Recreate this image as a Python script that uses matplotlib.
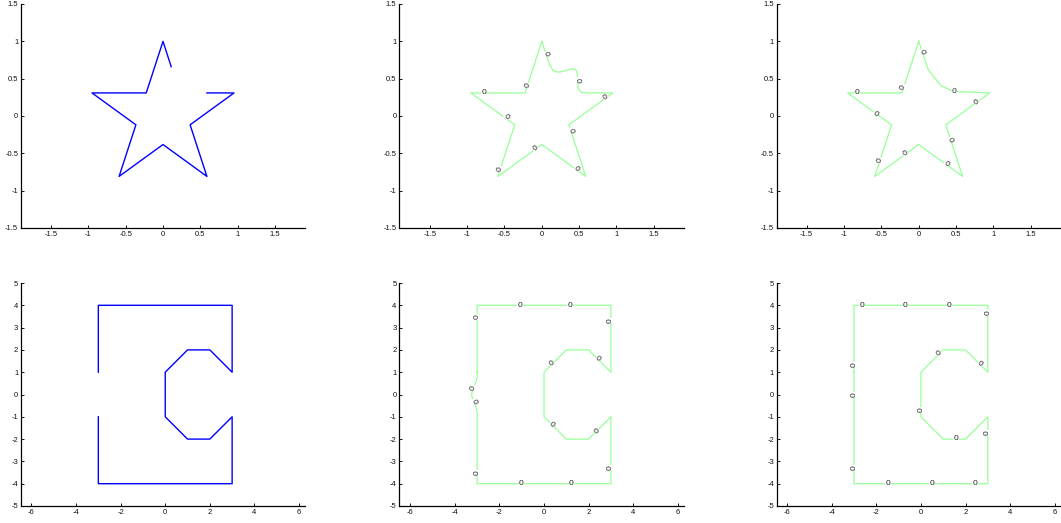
import numpy as np
import matplotlib
matplotlib.use("Agg")
import matplotlib.pyplot as plt

plt.rcParams["font.family"] = ["Liberation Sans", "DejaVu Sans"]
plt.rcParams["axes.unicode_minus"] = False

# ---------------- star: broken outline ----------------
star_broken_x = [0.588, 0.951, 0.363, 0.588, 0.0, -0.588, -0.363, -0.951, -0.2245, 0.0, 0.11]
star_broken_y = [0.309, 0.309, -0.118, -0.809, -0.382, -0.809, -0.118, 0.309, 0.309, 1.0, 0.66]

# ---------------- star: smooth completion ----------------
star_smooth_x = [0.0, 0.05, 0.10, 0.13, 0.16, 0.20, 0.25, 0.31, 0.37, 0.41, 0.44, 0.465, 0.475,
                 0.48, 0.485, 0.50, 0.53, 0.58, 0.951, 0.363, 0.588, 0.0, -0.588, -0.363,
                 -0.951, -0.2245, 0.0]
star_smooth_y = [1.0, 0.846, 0.70, 0.64, 0.605, 0.59, 0.59, 0.605, 0.625, 0.633, 0.628, 0.605, 0.56,
                 0.48, 0.39, 0.345, 0.318, 0.31, 0.309, -0.118, -0.809, -0.382, -0.809, -0.118,
                 0.309, 0.309, 1.0]
star_smooth_lx = [0.053, 0.476, 0.86, 0.387, 0.47, -0.088, -0.555, -0.48, -0.78, -0.19]
star_smooth_ly = [0.83, 0.484, 0.244, -0.196, -0.716, -0.436, -0.707, -0.022, 0.316, 0.41]

# ---------------- star: polygonal completion ----------------
star_poly_x = [0.0, 0.13, 0.30, 0.46, 0.951, 0.363, 0.588, 0.0, -0.588, -0.363, -0.951, -0.2245, 0.0]
star_poly_y = [1.0, 0.615, 0.405, 0.33, 0.309, -0.118, -0.809, -0.382, -0.809, -0.118, 0.309, 0.309, 1.0]
star_poly_lx = [0.04, 0.48, 0.78, 0.42, 0.37, -0.18, -0.525, -0.575, -0.82, -0.205]
star_poly_ly = [0.86, 0.33, 0.18, -0.32, -0.65, -0.505, -0.59, 0.03, 0.317, 0.39]

# ---------------- letter C: broken outline ----------------
c_broken_x = [-3, -3, 3, 3, 2, 1, 0, 0, 1, 2, 3, 3, -3, -3]
c_broken_y = [1, 4, 4, 1, 2, 2, 1, -1, -2, -2, -1, -4, -4, -1]

# ---------------- letter C: smooth completion ----------------
c_smooth_x = [-3, -3, 3, 3, 2, 1, 0, 0, 1, 2, 3, 3, -3, -3, -3.0, -3.04, -3.12, -3.2, -3.25,
              -3.2, -3.12, -3.04, -3.0, -3]
c_smooth_y = [1, 4, 4, 1, 2, 2, 1, -1, -2, -2, -1, -4, -4, -1, -0.8, -0.6, -0.4, -0.2, 0.0,
              0.2, 0.4, 0.6, 0.8, 1]
c_smooth_lx = [-2.99, -1.08, 1.17, 2.98, 2.41, 0.39, -3.16, -3.13, 0.34, 2.37, 2.98, 1.23, -1.02, -2.99]
c_smooth_ly = [3.47, 3.99, 3.99, 3.33, 1.59, 1.39, 0.3, -0.31, -1.35, -1.63, -3.29, -3.97, -3.97, -3.5]

# ---------------- letter C: straight completion ----------------
c_poly_x = [-3, -3, 3, 3, 2, 1, 0, 0, 1, 2, 3, 3, -3, -3, -3]
c_poly_y = [1, 4, 4, 1, 2, 2, 1, -1, -2, -2, -1, -4, -4, -1, 1]
c_poly_lx = [-2.64, -0.70, 1.27, 3.0, 2.64, 0.84, -3.0, -3.0, 0.0, 1.57, 2.98, 2.42, 0.48, -1.48, -3.0]
c_poly_ly = [3.99, 3.99, 3.99, 3.66, 1.38, 1.84, 1.33, 0.0, -0.67, -1.99, -1.69, -3.97, -3.97, -3.97, -3.29]

star_ticks = [-1.5, -1.0, -0.5, 0.0, 0.5, 1.0, 1.5]
c_xticks = [-6, -4, -2, 0, 2, 4, 6]
c_yticks = [-5, -4, -3, -2, -1, 0, 1, 2, 3, 4, 5]

BLUE = (0.0, 0.0, 1.0)
GREEN = (0.6, 1.0, 0.6)

fig = plt.figure(figsize=(10.61, 5.23), dpi=100)
W, H = 1061.0, 523.0
col_left = [21.0, 399.3, 776.7]
col_width = [284.0, 285.0, 284.0]
row_top = [4.0, 283.0]
row_bottom = [228.0, 506.0]

axes = []
boxes = []
for r in range(2):
    for c in range(3):
        h = row_bottom[r] - row_top[r]
        ax = fig.add_axes([col_left[c] / W, 1 - row_bottom[r] / H, col_width[c] / W, h / H])
        axes.append(ax)
        boxes.append((col_width[c], h))


def style(ax, box, half, xcenter, xticks, yticks):
    # equal data scale on both axes: widen x to fill the box
    wpx, hpx = box
    ax.set_ylim(-half, half)
    xh = half * wpx / hpx
    ax.set_xlim(xcenter - xh, xcenter + xh)
    ax.set_xticks(xticks)
    ax.set_yticks(yticks)
    ax.set_xticklabels([("%g" % t) for t in xticks])
    ax.set_yticklabels([("%g" % t) for t in yticks])
    for s in ("top", "right"):
        ax.spines[s].set_visible(False)
    for s in ("left", "bottom"):
        ax.spines[s].set_linewidth(0.9)
    ax.tick_params(direction="in", length=2.5, width=0.7, labelsize=5.5,
                   pad=2, colors="#111111")


def label_contour(ax, xs, ys, lx, ly):
    xs = np.asarray(xs, float)
    ys = np.asarray(ys, float)
    for px, py in zip(lx, ly):
        best, ang = None, 0.0
        for i in range(len(xs) - 1):
            dx, dy = xs[i + 1] - xs[i], ys[i + 1] - ys[i]
            L2 = dx * dx + dy * dy
            if L2 == 0:
                continue
            t = np.clip(((px - xs[i]) * dx + (py - ys[i]) * dy) / L2, 0, 1)
            d = (xs[i] + t * dx - px) ** 2 + (ys[i] + t * dy - py) ** 2
            if best is None or d < best:
                best = d
                ang = np.degrees(np.arctan2(dy, dx))
        if ang > 90:
            ang -= 180
        elif ang <= -90:
            ang += 180
        ax.text(px, py, "0", fontsize=6, color="#222222", ha="center", va="center",
                rotation=ang, rotation_mode="anchor",
                bbox=dict(facecolor="white", edgecolor="none", pad=0.2))


# top row: star
axes[0].plot(star_broken_x, star_broken_y, color=BLUE, lw=1.0)
axes[1].plot(star_smooth_x, star_smooth_y, color=GREEN, lw=0.9)
label_contour(axes[1], star_smooth_x, star_smooth_y, star_smooth_lx, star_smooth_ly)
axes[2].plot(star_poly_x, star_poly_y, color=GREEN, lw=0.9)
label_contour(axes[2], star_poly_x, star_poly_y, star_poly_lx, star_poly_ly)
for ax, box in zip(axes[:3], boxes[:3]):
    style(ax, box, 1.5, 0.0, star_ticks, star_ticks)

# bottom row: letter C
axes[3].plot(c_broken_x, c_broken_y, color=BLUE, lw=1.0)
axes[4].plot(c_smooth_x, c_smooth_y, color=GREEN, lw=0.9)
label_contour(axes[4], c_smooth_x, c_smooth_y, c_smooth_lx, c_smooth_ly)
axes[5].plot(c_poly_x, c_poly_y, color=GREEN, lw=0.9)
label_contour(axes[5], c_poly_x, c_poly_y, c_poly_lx, c_poly_ly)
for ax, box in zip(axes[3:], boxes[3:]):
    style(ax, box, 5, -0.1, c_xticks, c_yticks)

fig.savefig("out.png", dpi=100)
